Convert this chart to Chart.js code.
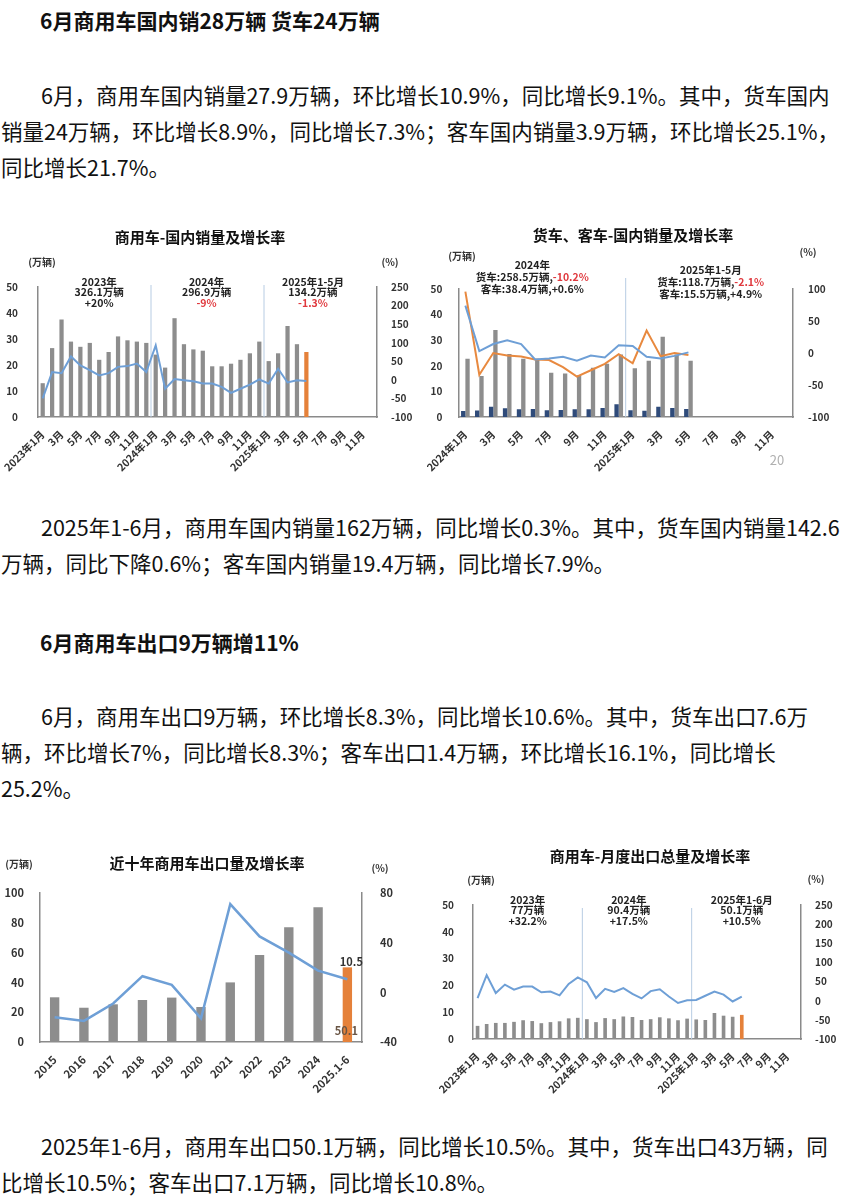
<!DOCTYPE html>
<html lang="zh-CN">
<head>
<meta charset="utf-8">
<title>商用车销量与出口</title>
<script src="https://cdn.jsdelivr.net/npm/chart.js@4.4.1/dist/chart.umd.min.js"></script>
<style>
  html, body { margin: 0; padding: 0; background: #fff; }
  body { width: 844px; height: 1200px; position: relative; overflow: hidden;
         font-family: "Noto Sans CJK SC", "Noto Sans", sans-serif; color: #111; }
  .para { position: absolute; left: 1px; white-space: nowrap; font-size: 21.5px; line-height: 36px; }
  .para .ind { padding-left: 40px; }
  .head { position: absolute; left: 40px; white-space: nowrap; font-weight: bold; font-size: 21px; line-height: 36px; }
  .chart { position: absolute; }
</style>
</head>
<body>

<div class="head" style="top:2px">6月商用车国内销28万辆 货车24万辆</div>
<div class="para" style="top:77px">
  <div class="ind">6月，商用车国内销量27.9万辆，环比增长10.9%，同比增长9.1%。其中，货车国内</div>
  <div>销量24万辆，环比增长8.9%，同比增长7.3%；客车国内销量3.9万辆，环比增长25.1%，</div>
  <div>同比增长21.7%。</div>
</div>

<div class="chart" style="left:0;top:220px;width:420px;height:255px"><canvas id="c1" width="420" height="255"></canvas></div>
<div class="chart" style="left:425px;top:220px;width:419px;height:260px"><canvas id="c2" width="419" height="260"></canvas></div>

<div class="para" style="top:509px">
  <div class="ind">2025年1-6月，商用车国内销量162万辆，同比增长0.3%。其中，货车国内销量142.6</div>
  <div>万辆，同比下降0.6%；客车国内销量19.4万辆，同比增长7.9%。</div>
</div>

<div class="head" style="top:624px">6月商用车出口9万辆增11%</div>
<div class="para" style="top:698px">
  <div class="ind">6月，商用车出口9万辆，环比增长8.3%，同比增长10.6%。其中，货车出口7.6万</div>
  <div>辆，环比增长7%，同比增长8.3%；客车出口1.4万辆，环比增长16.1%，同比增长</div>
  <div>25.2%。</div>
</div>

<div class="chart" style="left:0;top:835px;width:420px;height:265px"><canvas id="c3" width="420" height="265"></canvas></div>
<div class="chart" style="left:425px;top:835px;width:419px;height:265px"><canvas id="c4" width="419" height="265"></canvas></div>

<div class="para" style="top:1128px">
  <div class="ind">2025年1-6月，商用车出口50.1万辆，同比增长10.5%。其中，货车出口43万辆，同</div>
  <div>比增长10.5%；客车出口7.1万辆，同比增长10.8%。</div>
</div>

<script>
// ---- chart 1: 商用车国内销量 (万辆) and 增长率 (%) ----
const months36 = [
  '2023年1月','2月','3月','4月','5月','6月','7月','8月','9月','10月','11月','12月',
  '2024年1月','2月','3月','4月','5月','6月','7月','8月','9月','10月','11月','12月',
  '2025年1月','2月','3月','4月','5月','6月','7月','8月','9月','10月','11月','12月'
];
const domSales = [13, 26.5, 37.5, 29, 27, 28.5, 22, 25, 31, 29.5, 29, 28.5,
                  24, 19, 38, 28, 26, 25.5, 19.5, 19.5, 20.5, 22, 24.5, 29,
                  21.5, 24.5, 35, 28, 25];
const domGrowth = [-50, 21, 18, 63, 39, 26, 12, 18, 35, 37, 44, 21,
                   93, -24, 2, -1, -4, -10, -10, -19, -35, -24, -13, 1,
                   -10, 30, -7, -1, -3];
// note lines; a segment starting with '!' is printed in red
const domNotes = [
  [['2023年'], ['326.1万辆'], ['+20%']],
  [['2024年'], ['296.9万辆'], ['!-9%']],
  [['2025年1-5月'], ['134.2万辆'], ['!-1.3%']]
];

// ---- chart 2: 货车、客车国内销量 (万辆) and 增长率 (%) ----
const months24 = [
  '2024年1月','2月','3月','4月','5月','6月','7月','8月','9月','10月','11月','12月',
  '2025年1月','2月','3月','4月','5月','6月','7月','8月','9月','10月','11月','12月'
];
const truckSales = [22.8, 16, 34, 24.6, 22.8, 22.8, 17.3, 17, 16.3, 19.2, 20.8, 24.4,
                    19, 22, 31.3, 24.4, 22];
const busSales = [2.3, 2.5, 4, 3.4, 3, 3.1, 2.6, 2.7, 3, 3, 3.5, 5,
                  2.6, 2.4, 4, 3.5, 3.1];
const truckGrowth = [96, -34, 0, -4, -5.5, -10, -11, -22, -37, -27, -17, -2,
                     -16, 35, -5, 0, -3];
const busGrowth = [74, 3, 14, 20, 14, -10, -8.5, -6, -12, -4, -7, 12,
                   11, -6, -8.5, -4.5, 1];
const vehNotes = [
  [['2024年'], ['货车:258.5万辆,', '!-10.2%'], ['客车:38.4万辆,+0.6%']],
  [['2025年1-5月'], ['货车:118.7万辆,', '!-2.1%'], ['客车:15.5万辆,+4.9%']]
];

// ---- chart 3: 近十年商用车出口 ----
const years = ['2015', '2016', '2017', '2018', '2019', '2020', '2021', '2022', '2023', '2024', '2025.1-6'];
const yearExports = [30, 23, 25.3, 28.2, 29.8, 23.5, 40, 58.4, 77, 90.4, 50.1];
const yearGrowth = [-20, -23, -9, 13, 6, -21, 71, 45, 32, 17.5, 10.5];

// ---- chart 4: 商用车月度出口 ----
const monthExports = [4.9, 5.6, 6, 6, 6.4, 7, 6.7, 5.9, 6.3, 6.6, 7.7, 7.9,
                      7.4, 6.3, 7.8, 7.4, 8.4, 8.2, 7.1, 7.4, 8.1, 7.7, 7, 7.6,
                      7.3, 7.1, 9.7, 8.7, 8.3, 9];
const monthExpGrowth = [7, 67, 20, 42, 29, 37, 37, 22, 24, 14, 44, 61,
                        48, 7, 31, 23, 33, 18, 6, 25, 30, 11, -6, 1,
                        2, 13, 24, 16, -2, 10.6];
const expNotes = [
  [['2023年'], ['77万辆'], ['+32.2%']],
  [['2024年'], ['90.4万辆'], ['+17.5%']],
  [['2025年1-6月'], ['50.1万辆'], ['+10.5%']]
];

const GRAY = '#8d8d8d', ORANGE = '#e5813a', BLUE = '#6e9fd6', NAVY = '#2f4b7a', RED = '#e0393e';
const FONT = '"Noto Sans CJK SC", "Noto Sans", sans-serif';
Chart.defaults.font.family = FONT;
Chart.defaults.font.weight = 'bold';
Chart.defaults.color = '#333';
Chart.defaults.animation = false;

const fnt = s => `bold ${s}px ${FONT}`;

// dividers, titles, unit labels and text notes
const decor = {
  id: 'decor',
  beforeDatasetsDraw(chart, args, o) {
    const { ctx, chartArea: a, scales: { x } } = chart;
    ctx.save();
    ctx.strokeStyle = '#b7cce3';
    ctx.lineWidth = 1;
    (o.dividers || []).forEach(i => {
      const px = x.getPixelForValue(i - 0.5);
      ctx.beginPath();
      ctx.moveTo(px, a.top + (o.dividerTop || 0));
      ctx.lineTo(px, a.bottom);
      ctx.stroke();
    });
    ctx.restore();
  },
  afterDraw(chart, args, o) {
    const { ctx, chartArea: a, scales: { x } } = chart;
    ctx.save();
    ctx.textBaseline = 'middle';
    ctx.textAlign = 'center';
    if (o.title) {
      ctx.font = fnt(15);
      ctx.fillStyle = '#111';
      ctx.fillText(o.title[0], o.title[1], o.title[2]);
    }
    ctx.font = fnt(10);
    ctx.fillStyle = '#333';
    (o.units || []).forEach(u => ctx.fillText(u[0], u[1], u[2]));

    ctx.textAlign = 'left';
    ctx.font = fnt(10.5);
    (o.notes || []).forEach((lines, n) => {
      const cx = x.getPixelForValue(o.noteAt[n]);
      lines.forEach((segs, k) => {
        const parts = segs.map(s => (s[0] === '!' ? [s.slice(1), RED] : [s, '#222']));
        const y = a.top + o.noteDy[n] + k * o.noteGap;
        const w = parts.reduce((t, p) => t + ctx.measureText(p[0]).width, 0);
        let px = cx - w / 2;
        parts.forEach(p => {
          ctx.fillStyle = p[1];
          ctx.fillText(p[0], px, y);
          px += ctx.measureText(p[0]).width;
        });
      });
    });
    ctx.textAlign = 'center';

    if (o.endLabels) {
      const lineMeta = chart.getDatasetMeta(0), barMeta = chart.getDatasetMeta(1);
      const i = barMeta.data.length - 1;
      const bar = barMeta.data[i], pt = lineMeta.data[i];
      ctx.font = fnt(11);
      ctx.fillStyle = '#333';
      ctx.fillText(String(chart.data.datasets[0].data[i]), pt.x + 4, pt.y - 17);
      ctx.fillStyle = '#6a5646';
      ctx.fillText(String(chart.data.datasets[1].data[i]), bar.x - 1, bar.base - 11);
    }
    if (o.pageNo) {
      ctx.font = `${o.pageNo[3]}px ${FONT}`;
      ctx.fillStyle = '#b0b0b0';
      ctx.fillText(o.pageNo[0], o.pageNo[1], o.pageNo[2]);
    }
    ctx.restore();
  }
};

function lastColor(data) {
  const last = data.length - 1;
  return c => (c.dataIndex === last ? ORANGE : GRAY);
}

function oddMonth(v, i) {
  return i % 2 === 0 ? this.getLabelForValue(v) : '';
}

function axes(o) {
  const border = { display: true, color: '#8a8a8a', width: 1.5 };
  const xTicks = { autoSkip: false, minRotation: 45, maxRotation: 45, padding: 3,
                   font: { size: o.xFont || 10.5 } };
  if (o.xcb) xTicks.callback = o.xcb;
  return {
    x: {
      grid: { display: false }, border,
      afterFit: s => { s.height = o.xh; },
      ticks: xTicks
    },
    y: {
      position: 'left', min: o.y[0], max: o.y[1], grid: { display: false }, border,
      afterFit: s => { s.width = o.yw; },
      ticks: { stepSize: o.y[2], padding: o.yPad, font: { size: o.tFont || 10 } }
    },
    y1: {
      position: 'right', min: o.y1[0], max: o.y1[1], grid: { display: false }, border,
      afterFit: s => { s.width = o.y1w; },
      ticks: { stepSize: o.y1[2], padding: o.y1Pad, font: { size: o.tFont || 10 } }
    }
  };
}

const common = {
  responsive: false,
  maintainAspectRatio: false,
  events: [],
  plugins: { legend: { display: false }, tooltip: { enabled: false } }
};

// chart 1
new Chart(document.getElementById('c1'), {
  data: {
    labels: months36,
    datasets: [
      { type: 'line', data: domGrowth, yAxisID: 'y1', borderColor: BLUE, borderWidth: 2,
        pointRadius: 0, tension: 0, order: 0 },
      { type: 'bar', data: domSales, yAxisID: 'y', backgroundColor: lastColor(domSales),
        barPercentage: 0.45, categoryPercentage: 1, order: 1 }
    ]
  },
  options: {
    ...common,
    layout: { padding: { top: 67, left: 0, right: 0, bottom: 0 } },
    scales: axes({ xh: 58, yw: 38, y1w: 43, y: [0, 50, 10], y1: [-100, 250, 50], yPad: 12, y1Pad: 6, xcb: oddMonth }),
    plugins: {
      ...common.plugins,
      decor: {
        title: ['商用车-国内销量及增长率', 200, 17],
        units: [['(万辆)', 42, 42], ['(%)', 390, 42]],
        dividers: [12, 24], dividerTop: -2,
        notes: domNotes, noteAt: [6, 17.4, 28.7], noteDy: [-5, -5, -5], noteGap: 10.5
      }
    }
  },
  plugins: [decor]
});

// chart 2
new Chart(document.getElementById('c2'), {
  data: {
    labels: months24,
    datasets: [
      { type: 'line', data: truckGrowth, yAxisID: 'y1', borderColor: '#e8893f', borderWidth: 2,
        pointRadius: 0, tension: 0, order: 1 },
      { type: 'line', data: busGrowth, yAxisID: 'y1', borderColor: BLUE, borderWidth: 2,
        pointRadius: 0, tension: 0, order: 0 },
      { type: 'bar', data: truckSales, yAxisID: 'y', backgroundColor: GRAY,
        barPercentage: 1, categoryPercentage: 0.62, order: 3 },
      { type: 'bar', data: busSales, yAxisID: 'y', backgroundColor: NAVY,
        barPercentage: 1, categoryPercentage: 0.62, order: 2 }
    ]
  },
  options: {
    ...common,
    layout: { padding: { top: 69, left: 0, right: 0, bottom: 0 } },
    scales: axes({ xh: 63, yw: 30, y1w: 51, y: [0, 50, 10], y1: [-100, 100, 50], yPad: 8, y1Pad: 7, xcb: oddMonth }),
    plugins: {
      ...common.plugins,
      decor: {
        title: ['货车、客车-国内销量及增长率', 208, 15],
        units: [['(万辆)', 37, 36], ['(%)', 383, 32]],
        dividers: [12], dividerTop: -11,
        notes: vehNotes, noteAt: [4.8, 17.6], noteDy: [-24, -19], noteGap: 11.8,
        pageNo: ['20', 352, 240, 13]
      }
    }
  },
  plugins: [decor]
});

// chart 3
new Chart(document.getElementById('c3'), {
  data: {
    labels: years,
    datasets: [
      { type: 'line', data: yearGrowth, yAxisID: 'y1', borderColor: BLUE, borderWidth: 2.5,
        pointRadius: 0, tension: 0, order: 0 },
      { type: 'bar', data: yearExports, yAxisID: 'y', backgroundColor: lastColor(yearExports),
        barPercentage: 0.32, categoryPercentage: 1, order: 1 }
    ]
  },
  options: {
    ...common,
    layout: { padding: { top: 58, left: 0, right: 0, bottom: 0 } },
    scales: axes({ xh: 58, yw: 40, y1w: 58, y: [0, 100, 20], y1: [-40, 80, 40], yPad: 8, y1Pad: 10,
                   tFont: 11, xFont: 11 }),
    plugins: {
      ...common.plugins,
      decor: {
        title: ['近十年商用车出口量及增长率', 207, 28],
        units: [['(万辆)', 19, 29], ['(%)', 380, 33]],
        endLabels: true
      }
    }
  },
  plugins: [decor]
});

// chart 4
new Chart(document.getElementById('c4'), {
  data: {
    labels: months36,
    datasets: [
      { type: 'line', data: monthExpGrowth, yAxisID: 'y1', borderColor: BLUE, borderWidth: 2,
        pointRadius: 0, tension: 0, order: 0 },
      { type: 'bar', data: monthExports, yAxisID: 'y', backgroundColor: lastColor(monthExports),
        barPercentage: 0.4, categoryPercentage: 1, order: 1 }
    ]
  },
  options: {
    ...common,
    layout: { padding: { top: 70, left: 0, right: 0, bottom: 0 } },
    scales: axes({ xh: 61, yw: 48, y1w: 43, y: [0, 50, 10], y1: [-100, 250, 50], yPad: 11, y1Pad: 6, xcb: oddMonth }),
    plugins: {
      ...common.plugins,
      decor: {
        title: ['商用车-月度出口总量及增长率', 225, 21],
        units: [['(万辆)', 56, 45], ['(%)', 391, 44]],
        dividers: [12, 24], dividerTop: 3,
        notes: expNotes, noteAt: [5.5, 16.6, 29], noteDy: [-5, -5, -5], noteGap: 10.5
      }
    }
  },
  plugins: [decor]
});
</script>
</body>
</html>
